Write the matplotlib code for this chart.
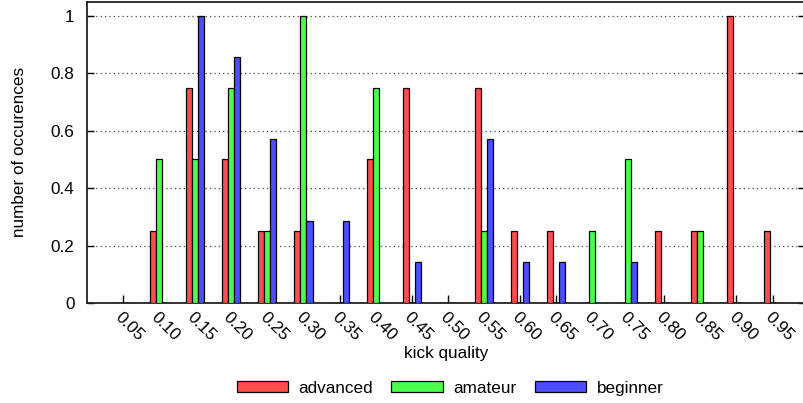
import matplotlib.pyplot as plt, numpy as np

plt.rcParams['font.family'] = ['Liberation Sans', 'DejaVu Sans']

# kick quality bins and normalised counts per skill level
quality = ['0.05', '0.10', '0.15', '0.20', '0.25', '0.30', '0.35', '0.40', '0.45', '0.50',
           '0.55', '0.60', '0.65', '0.70', '0.75', '0.80', '0.85', '0.90', '0.95']
advanced = [0, 0.25, 0.75, 0.5, 0.25, 0.25, 0, 0.5, 0.75, 0,
            0.75, 0.25, 0.25, 0, 0, 0.25, 0.25, 1, 0.25]
amateur = [0, 0.5, 0.5, 0.75, 0.25, 1, 0, 0.75, 0, 0,
           0.25, 0, 0, 0.25, 0.5, 0, 0.25, 0, 0]
beginner = [0, 0, 1, 6/7, 4/7, 2/7, 2/7, 0, 1/7, 0,
            4/7, 1/7, 1/7, 0, 1/7, 0, 0, 0, 0]

fs = 12.3
fig = plt.figure(figsize=(8.04, 4.03), dpi=100)
ax = fig.add_axes([87/804, 1 - 303/403, 718/804, 301.5/403])

x = np.arange(len(quality))
w = 1/6
series = [(advanced, '#ff4d4d', 'advanced'),
          (amateur, '#4dff4d', 'amateur'),
          (beginner, '#4d4dff', 'beginner')]
for i, (vals, col, lab) in enumerate(series):
    ax.bar(x + (i - 1)*w, vals, w, color=col, edgecolor='black', linewidth=0.9,
           label=lab, zorder=3)

ax.set_xlim(-1, 18.9)
ax.set_ylim(0, 1.05)
ax.set_xticks(x)
ax.set_xticklabels(quality, rotation=-45, ha='left', va='top', rotation_mode='anchor', fontsize=fs)
ax.set_yticks([0, 0.2, 0.4, 0.6, 0.8, 1])
ax.set_yticklabels(['0', '0.2', '0.4', '0.6', '0.8', '1'], fontsize=fs)
ax.tick_params(axis='x', direction='in', length=6, width=1, pad=5)
ax.tick_params(axis='y', direction='in', length=5, width=1, pad=9, right=True)
ax.grid(axis='y', linestyle=(0, (1, 2.5)), color='#444444', linewidth=0.9, zorder=0)
for s in ax.spines.values():
    s.set_linewidth(1.3)
    s.set_color('#222222')

ax.set_xlabel('kick quality', fontsize=fs, labelpad=1)
ax.set_ylabel('number of occurences', fontsize=fs, labelpad=17)

fig.legend(loc='lower center', bbox_to_anchor=(450/804, -0.02), ncol=3, frameon=False,
           fontsize=fs, handlelength=3, handleheight=0.55, handletextpad=0.6,
           columnspacing=1.1)

fig.savefig('out.png', dpi=100)
